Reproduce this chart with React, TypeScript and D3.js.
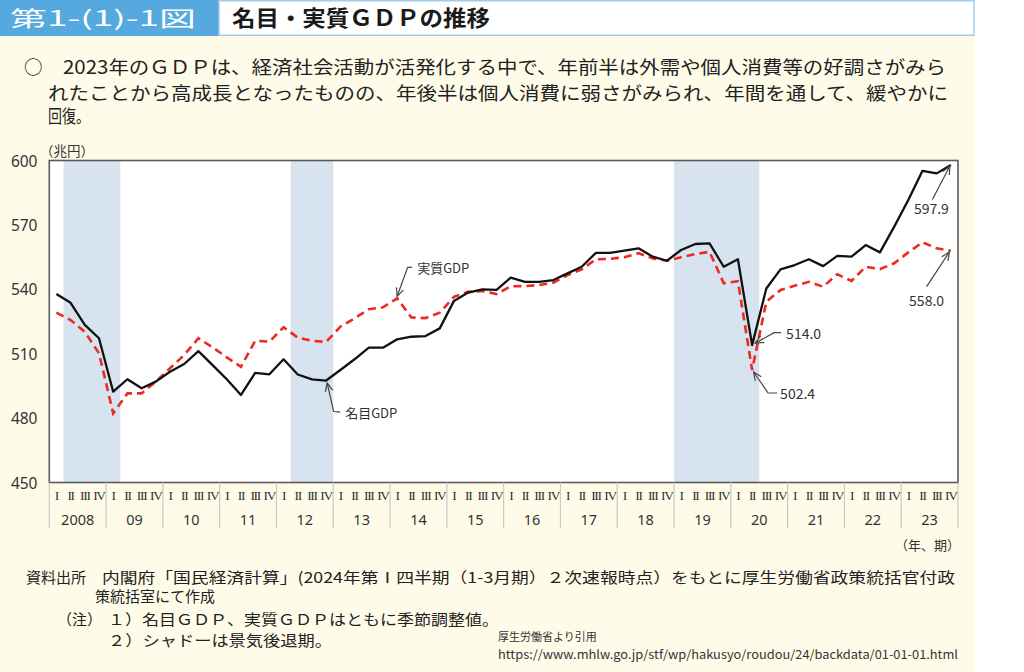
import React from "react";
import * as d3 from "d3";

// 兆円, seasonally adjusted, 2008 Q1 .. 2023 Q4
const years = ["2008", "09", "10", "11", "12", "13", "14", "15", "16", "17", "18", "19", "20", "21", "22", "23"];
const quarterLabels = ["I", "II", "III", "IV"];
const nominalGDP = [
  537.8, 533.7, 523.4, 517.2, 492.3, 498.1, 493.9, 497.0, 501.6, 505.2, 511.2, 504.7, 498.1, 490.8, 501.1, 500.4,
  507.4, 500.3, 498.0, 497.5, 502.4, 507.4, 512.8, 512.8, 516.7, 517.9, 518.2, 521.8, 534.6, 538.5, 540.0, 539.7,
  545.4, 543.5, 543.5, 544.3, 547.4, 550.5, 557.0, 557.0, 558.0, 559.1, 555.2, 553.3, 558.3, 561.1, 561.4, 550.5,
  554.0, 514.0, 540.4, 549.3, 551.3, 554.0, 550.8, 555.6, 555.2, 560.6, 557.2, 569.1, 581.6, 595.2, 594.0, 597.9,
];
const realGDP = [
  529.1, 525.7, 520.2, 510.2, 482.2, 491.5, 491.5, 497.0, 503.2, 509.4, 517.2, 513.0, 508.3, 503.9, 516.0, 515.6,
  522.3, 517.5, 516.0, 515.5, 522.6, 526.5, 530.7, 531.6, 535.8, 526.9, 526.6, 529.1, 536.5, 538.8, 539.2, 537.8,
  541.4, 541.5, 542.0, 543.1, 546.6, 549.3, 554.0, 554.2, 554.9, 556.8, 554.4, 553.3, 554.9, 556.4, 557.5, 542.8,
  543.8, 502.4, 534.2, 539.7, 541.7, 543.5, 541.2, 547.0, 543.9, 550.5, 549.4, 552.1, 557.2, 561.9, 559.1, 558.0,
];
// recession shading, first and last quarter index (inclusive)
const recessionStart = [1, 17, 44];
const recessionEnd = [4, 19, 49];
const yTicks = [450, 480, 510, 540, 570, 600];

const left = 49.3, right = 958, top = 160.5, bottom = 482.5;
const sans = "'Noto Sans CJK JP', 'Noto Sans', sans-serif";

const x = d3.scaleLinear().domain([0, nominalGDP.length]).range([left, right]);
const y = d3.scaleLinear().domain([450, 600]).range([bottom, top]);

const lineGen = d3
  .line<number>()
  .x((d, i) => x(i + 0.5))
  .y((d) => y(d));

type Note = { text: string; data: number[]; i: number; tip: number[]; path: number[][]; label: number[]; anchor: string; size: number };
const notes: Note[] = [
  { text: "実質GDP", data: realGDP, i: 24, tip: [0, -2], path: [[15, -29], [10.5, -29]], label: [20, -23], anchor: "start", size: 13 },
  { text: "名目GDP", data: nominalGDP, i: 19, tip: [1, 2.5], path: [[13, 29], [6.5, 28.5]], label: [18, 35], anchor: "start", size: 13 },
  { text: "514.0", data: nominalGDP, i: 49, tip: [3, -2], path: [[26, -10.5], [19, -10.5]], label: [31, -4.5], anchor: "start", size: 14 },
  { text: "502.4", data: realGDP, i: 49, tip: [1.5, 2], path: [[23.5, 21], [14.5, 21]], label: [26.5, 26.5], anchor: "start", size: 14 },
  { text: "597.9", data: nominalGDP, i: 63, tip: [-1, 1], path: [[-17.5, 33.5]], label: [-18.5, 48], anchor: "middle", size: 14 },
  { text: "558.0", data: realGDP, i: 63, tip: [-1.5, 1.3], path: [[-22.8, 34.7]], label: [-22.8, 54.5], anchor: "middle", size: 14 },
];

const arrowHead = (x1: number, y1: number, x2: number, y2: number) => {
  const a = Math.atan2(y2 - y1, x2 - x1);
  const L = 9, s = 0.42;
  return `M${x2 - L * Math.cos(a - s)},${y2 - L * Math.sin(a - s)}L${x2},${y2}L${x2 - L * Math.cos(a + s)},${y2 - L * Math.sin(a + s)}`;
};

const App = () => {
  const yearW = (right - left) / years.length;
  return (
    <svg width={1024} height={672} style={{ position: "absolute", left: 0, top: 0 }} fontFamily={sans}>
      <rect x={0} y={0} width={1024} height={672} fill="#ffffff" />
      <rect x={0} y={36} width={975} height={636} fill="#fefce9" />
      {/* header */}
      <rect x={0} y={0} width={219} height={36} fill="#55a9de" />
      <rect x={219} y={0.75} width={755} height={34.5} fill="#ffffff" stroke="#9fcdec" strokeWidth={1.5} />
      <text x={10} y={26} fontSize={21} fill="#ffffff" textLength={186} lengthAdjust="spacingAndGlyphs">
        第1-(1)-1図
      </text>
      <text x={232} y={26} fontSize={22} fontWeight={700} fill="#1a1a1a" textLength={258} lengthAdjust="spacingAndGlyphs">
        名目・実質ＧＤＰの推移
      </text>
      {/* lead text */}
      <g fontSize={18.5} fill="#222">
        <text x={24} y={74}>○</text>
        <text x={63} y={74} textLength={883} lengthAdjust="spacingAndGlyphs">
          2023年のＧＤＰは、経済社会活動が活発化する中で、年前半は外需や個人消費等の好調さがみら
        </text>
        <text x={48} y={100} textLength={900} lengthAdjust="spacingAndGlyphs">
          れたことから高成長となったものの、年後半は個人消費に弱さがみられ、年間を通して、緩やかに
        </text>
        <text x={48} y={123} textLength={42} lengthAdjust="spacingAndGlyphs">
          回復。
        </text>
      </g>

      {/* plot */}
      <rect x={left} y={top} width={right - left} height={bottom - top} fill="#ffffff" />
      {recessionStart.map((s, k) => (
        <rect key={k} x={x(s)} y={top} width={x(recessionEnd[k] + 1) - x(s)} height={bottom - top} fill="#d7e4f0" />
      ))}
      <rect x={left} y={top} width={right - left} height={bottom - top} fill="none" stroke="#5a5a5a" strokeWidth={1.6} />

      {yTicks.map((t) => (
        <text key={t} x={37.5} y={y(t) + 6} fontSize={15.5} textAnchor="end" fill="#333" fontFamily="'Noto Sans', sans-serif">
          {t}
        </text>
      ))}
      <text x={40} y={156} fontSize={13.5} fill="#333">（兆円）</text>

      {/* x axis: quarters and years */}
      {years.map((yr, k) => (
        <g key={yr}>
          <line x1={x(k * 4)} x2={x(k * 4)} y1={bottom} y2={528} stroke="#c9c9c9" strokeWidth={1.2} />
          {quarterLabels.map((q, j) => (
            <text
              key={q}
              x={x(k * 4 + j + 0.5)}
              y={499.5}
              fontSize={13.5}
              textAnchor="middle"
              fill="#333"
              fontFamily="'Liberation Serif', serif"
              letterSpacing={-1.3}
            >
              {q}
            </text>
          ))}
          <text x={x(k * 4) + yearW / 2} y={525} fontSize={14.5} textAnchor="middle" fill="#333" fontFamily="'Noto Sans', sans-serif">
            {yr}
          </text>
        </g>
      ))}
      <line x1={right} x2={right} y1={bottom} y2={528} stroke="#c9c9c9" strokeWidth={1.2} />
      <text x={960} y={550} fontSize={13} textAnchor="end" fill="#333">（年、期）</text>

      {/* lines */}
      <path d={lineGen(realGDP) ?? ""} fill="none" stroke="#ec2a22" strokeWidth={2.6} strokeDasharray="8 5" />
      <path d={lineGen(nominalGDP) ?? ""} fill="none" stroke="#111111" strokeWidth={2.3} strokeLinejoin="round" />

      {/* annotations */}
      {notes.map((n) => {
        const tx = x(n.i + 0.5) + n.tip[0];
        const ty = y(n.data[n.i]) + n.tip[1];
        const pts = [...n.path.map((p) => [tx + p[0], ty + p[1]]), [tx, ty]];
        const prev = pts[pts.length - 2];
        return (
          <g key={n.text}>
            <path d={d3.line()(pts as [number, number][]) ?? ""} fill="none" stroke="#444" strokeWidth={1.2} />
            <path d={arrowHead(prev[0], prev[1], tx, ty)} fill="none" stroke="#444" strokeWidth={1.2} />
            <text x={tx + n.label[0]} y={ty + n.label[1]} fontSize={n.size} textAnchor={n.anchor} fill="#333">
              {n.text}
            </text>
          </g>
        );
      })}

      {/* source notes */}
      <g fontSize={15} fill="#222">
        <text x={26} y={583}>資料出所</text>
        <text x={102} y={583} textLength={853} lengthAdjust="spacingAndGlyphs">
          内閣府「国民経済計算」(2024年第Ⅰ四半期（1-3月期）２次速報時点）をもとに厚生労働省政策統括官付政
        </text>
        <text x={95} y={602}>策統括室にて作成</text>
        <text x={57} y={625}>（注）</text>
        <text x={108} y={625} textLength={391} lengthAdjust="spacingAndGlyphs">
          １）名目ＧＤＰ、実質ＧＤＰはともに季節調整値。
        </text>
        <text x={108} y={646} textLength={224} lengthAdjust="spacingAndGlyphs">
          ２）シャドーは景気後退期。
        </text>
      </g>
      <text x={498} y={641} fontSize={11} fill="#333">厚生労働省より引用</text>
      <text x={498} y={659} fontSize={12} fill="#333" textLength={460} lengthAdjust="spacingAndGlyphs">
        https://www.mhlw.go.jp/stf/wp/hakusyo/roudou/24/backdata/01-01-01.html
      </text>
    </svg>
  );
};

export default App;
